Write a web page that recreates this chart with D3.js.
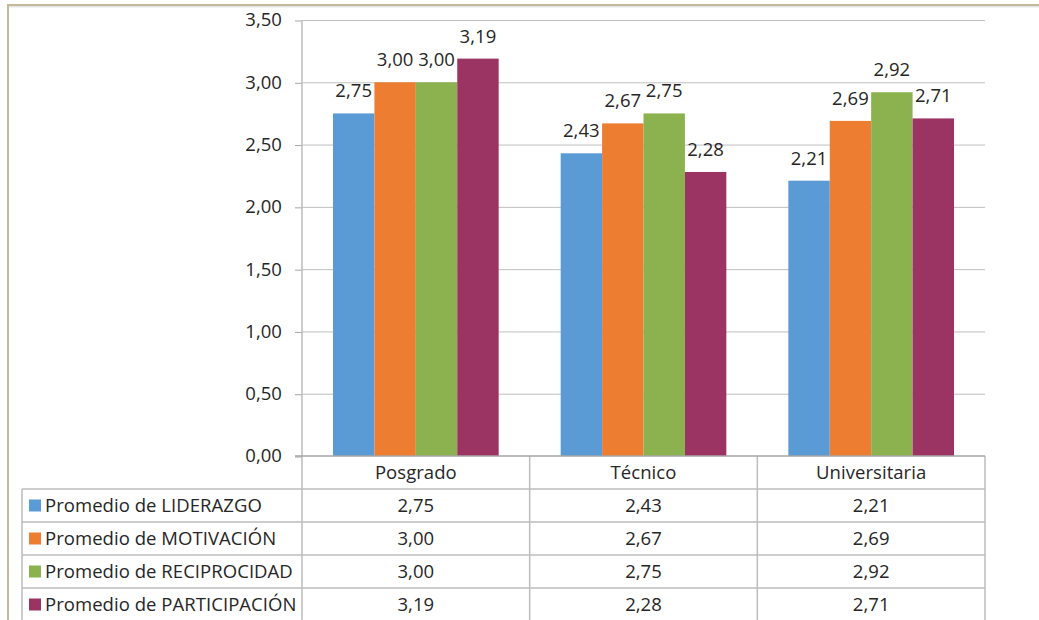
<!DOCTYPE html>
<html>
<head>
<meta charset="utf-8">
<script src="https://cdn.jsdelivr.net/npm/d3@7"></script>
<style>
  html, body { margin: 0; padding: 0; background: #fff; }
  svg { display: block; font-family: "Open Sans", sans-serif; letter-spacing: 0.05px; }
</style>
</head>
<body>
<svg id="chart" width="1039" height="620"></svg>
<script>
// Niveles de formación y promedios por dimensión
const categories = ["Posgrado", "Técnico", "Universitaria"];
const seriesNames = [
  "Promedio de LIDERAZGO",
  "Promedio de MOTIVACIÓN",
  "Promedio de RECIPROCIDAD",
  "Promedio de PARTICIPACIÓN"
];
const liderazgo     = [2.75, 2.43, 2.21];
const motivacion    = [3.00, 2.67, 2.69];
const reciprocidad  = [3.00, 2.75, 2.92];
const participacion = [3.19, 2.28, 2.71];
const seriesValues = [liderazgo, motivacion, reciprocidad, participacion];
const seriesColors = ["#5B9BD5", "#ED7D31", "#8CB24F", "#9B3363"];
const yTicks = [0, 0.5, 1, 1.5, 2, 2.5, 3, 3.5];

const fmt = v => v.toFixed(2).replace(".", ",");
const FS = 18.5;
const TXT = "#262626";

const svg = d3.select("#chart");

// Marco exterior
svg.append("line").attr("x1", 7).attr("x2", 1039).attr("y1", 5).attr("y2", 5)
  .attr("stroke", "#C4B99A").attr("stroke-width", 2);
svg.append("line").attr("x1", 7).attr("x2", 1039).attr("y1", 6.8).attr("y2", 6.8)
  .attr("stroke", "#D8D8D8").attr("stroke-width", 1);
svg.append("line").attr("x1", 8).attr("x2", 8).attr("y1", 4).attr("y2", 620)
  .attr("stroke", "#C4B99A").attr("stroke-width", 2);

const plotLeft = 302, plotRight = 985, plotTop = 20, plotBottom = 456;

const y = d3.scaleLinear().domain([0, 3.5]).range([plotBottom, plotTop]);
const x = d3.scaleBand().domain(categories).range([plotLeft, plotRight]).padding(0);
const xs = d3.scaleBand().domain(d3.range(seriesNames.length))
  .range([31, x.bandwidth() - 31]).padding(0);

// Líneas de cuadrícula
svg.append("g").selectAll("line").data(yTicks.filter(t => t > 0)).join("line")
  .attr("x1", plotLeft).attr("x2", plotRight)
  .attr("y1", d => y(d) + 0.5).attr("y2", d => y(d) + 0.5)
  .attr("stroke", "#BFBFBF").attr("stroke-width", 1);

// Eje Y
const yAxis = svg.append("g").attr("transform", `translate(${plotLeft},0)`)
  .call(d3.axisLeft(y).tickValues(yTicks).tickFormat(fmt).tickSize(7).tickPadding(13));
yAxis.select(".domain").remove();
yAxis.selectAll(".tick line").attr("stroke", "#A6A6A6").attr("transform", "translate(0,0.5)");
yAxis.selectAll(".tick text").attr("fill", TXT).attr("font-size", FS)
  .attr("font-family", "'Open Sans', sans-serif");

// Barras
const groups = svg.append("g").selectAll("g").data(categories).join("g")
  .attr("transform", d => `translate(${x(d)},0)`);

groups.selectAll("rect")
  .data((c, ci) => seriesValues.map((vals, si) => ({ si, v: vals[ci] })))
  .join("rect")
  .attr("x", d => xs(d.si))
  .attr("width", xs.bandwidth())
  .attr("y", d => y(d.v))
  .attr("height", d => y(0) - y(d.v))
  .attr("fill", d => seriesColors[d.si]);

// Etiquetas de valor
groups.selectAll("text.val")
  .data((c, ci) => seriesValues.map((vals, si) => ({ si, v: vals[ci] })))
  .join("text")
  .attr("class", "val")
  .attr("x", d => xs(d.si) + xs.bandwidth() / 2)
  .attr("y", d => y(d.v) - 16)
  .attr("text-anchor", "middle")
  .attr("font-size", FS)
  .attr("fill", TXT)
  .text(d => fmt(d.v));

// Tabla de datos
const tableLeft = 22, rowH = 33;
const gridColor = "#BDBDBD";
const tbl = svg.append("g");

tbl.append("line").attr("x1", plotLeft).attr("x2", plotLeft).attr("y1", plotTop).attr("y2", 620)
  .attr("stroke", gridColor).attr("stroke-width", 1.5);
const colEdges = categories.map(c => x(c) + x.bandwidth());
tbl.selectAll("line.col").data(colEdges).join("line").attr("class", "col")
  .attr("x1", d => d).attr("x2", d => d)
  .attr("y1", plotBottom).attr("y2", 620)
  .attr("stroke", gridColor).attr("stroke-width", 1.5);
tbl.append("line").attr("x1", tableLeft).attr("x2", tableLeft)
  .attr("y1", plotBottom + rowH).attr("y2", 620)
  .attr("stroke", gridColor).attr("stroke-width", 1.5);

// Línea base del eje X
tbl.append("line").attr("x1", plotLeft - 7).attr("x2", plotRight).attr("y1", plotBottom).attr("y2", plotBottom)
  .attr("stroke", "#A6A6A6").attr("stroke-width", 1.5);

// Líneas horizontales de filas
const rowLines = d3.range(1, seriesNames.length + 1).map(i => plotBottom + i * rowH);
tbl.selectAll("line.row").data(rowLines).join("line").attr("class", "row")
  .attr("x1", tableLeft).attr("x2", plotRight)
  .attr("y1", d => d).attr("y2", d => d)
  .attr("stroke", gridColor).attr("stroke-width", 1.5);

// Encabezados de categoría
tbl.selectAll("text.cat").data(categories).join("text").attr("class", "cat")
  .attr("x", d => x(d) + x.bandwidth() / 2)
  .attr("y", plotBottom + rowH / 2)
  .attr("dy", "0.35em")
  .attr("text-anchor", "middle")
  .attr("font-size", FS).attr("fill", TXT)
  .text(d => d);

// Filas de series
seriesNames.forEach((name, si) => {
  const cy = plotBottom + (si + 1) * rowH + rowH / 2;
  tbl.append("rect").attr("x", 29).attr("y", cy - 6).attr("width", 12).attr("height", 12)
    .attr("fill", seriesColors[si]);
  tbl.append("text").attr("x", 45).attr("y", cy).attr("dy", "0.35em")
    .attr("font-size", FS).attr("fill", TXT).text(name);
  tbl.selectAll(null).data(categories).join("text")
    .attr("x", d => x(d) + x.bandwidth() / 2)
    .attr("y", cy).attr("dy", "0.35em")
    .attr("text-anchor", "middle")
    .attr("font-size", FS).attr("fill", TXT)
    .text((d, ci) => fmt(seriesValues[si][ci]));
});
</script>
</body>
</html>
